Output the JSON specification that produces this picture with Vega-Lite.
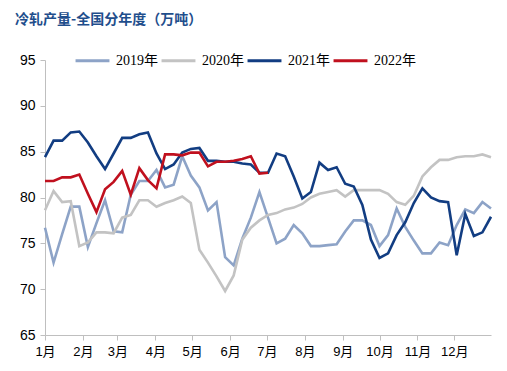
{
 "$schema": "https://vega.github.io/schema/vega-lite/v6.json",
 "width": 446, "height": 275,
 "autosize": {"type": "none"},
 "padding": {"left": 45, "top": 60, "right": 16, "bottom": 36},
 "background": "white",
 "title": {"text": "冷轧产量-全国分年度（万吨）", "anchor": "start", "frame": "group", "dx": -30, "dy": -11, "font": "Noto Sans CJK SC", "fontSize": 14, "fontWeight": "bold", "color": "#1F4E8C"},
 "config": {"view": {"stroke": null}},
 "data": {"values": [
  {"d":"2021-01-01","s":"2019年","v":76.7},{"d":"2021-01-08","s":"2019年","v":72.9},{"d":"2021-01-15","s":"2019年","v":76.0},{"d":"2021-01-22","s":"2019年","v":79.0},{"d":"2021-01-29","s":"2019年","v":79.0},{"d":"2021-02-05","s":"2019年","v":74.6},{"d":"2021-02-12","s":"2019年","v":77.2},{"d":"2021-02-19","s":"2019年","v":79.7},{"d":"2021-02-26","s":"2019年","v":76.3},{"d":"2021-03-05","s":"2019年","v":76.2},{"d":"2021-03-12","s":"2019年","v":80.3},{"d":"2021-03-19","s":"2019年","v":81.8},{"d":"2021-03-26","s":"2019年","v":81.8},{"d":"2021-04-02","s":"2019年","v":83.0},{"d":"2021-04-09","s":"2019年","v":81.1},{"d":"2021-04-16","s":"2019年","v":81.4},{"d":"2021-04-23","s":"2019年","v":84.5},{"d":"2021-04-30","s":"2019年","v":82.4},{"d":"2021-05-07","s":"2019年","v":81.1},{"d":"2021-05-14","s":"2019年","v":78.6},{"d":"2021-05-21","s":"2019年","v":79.5},{"d":"2021-05-28","s":"2019年","v":73.5},{"d":"2021-06-04","s":"2019年","v":72.6},{"d":"2021-06-11","s":"2019年","v":75.5},{"d":"2021-06-18","s":"2019年","v":77.8},{"d":"2021-06-25","s":"2019年","v":80.6},{"d":"2021-07-02","s":"2019年","v":77.8},{"d":"2021-07-09","s":"2019年","v":75.0},{"d":"2021-07-16","s":"2019年","v":75.5},{"d":"2021-07-23","s":"2019年","v":77.0},{"d":"2021-07-30","s":"2019年","v":76.1},{"d":"2021-08-06","s":"2019年","v":74.7},{"d":"2021-08-13","s":"2019年","v":74.7},{"d":"2021-08-20","s":"2019年","v":74.8},{"d":"2021-08-27","s":"2019年","v":74.9},{"d":"2021-09-03","s":"2019年","v":76.3},{"d":"2021-09-10","s":"2019年","v":77.5},{"d":"2021-09-17","s":"2019年","v":77.5},{"d":"2021-09-24","s":"2019年","v":77.0},{"d":"2021-10-01","s":"2019年","v":74.7},{"d":"2021-10-08","s":"2019年","v":75.9},{"d":"2021-10-15","s":"2019年","v":78.8},{"d":"2021-10-22","s":"2019年","v":76.8},{"d":"2021-10-29","s":"2019年","v":75.3},{"d":"2021-11-05","s":"2019年","v":73.9},{"d":"2021-11-12","s":"2019年","v":73.9},{"d":"2021-11-19","s":"2019年","v":75.1},{"d":"2021-11-26","s":"2019年","v":74.8},{"d":"2021-12-03","s":"2019年","v":77.0},{"d":"2021-12-10","s":"2019年","v":78.7},{"d":"2021-12-17","s":"2019年","v":78.3},{"d":"2021-12-24","s":"2019年","v":79.5},{"d":"2021-12-31","s":"2019年","v":78.8},
  {"d":"2021-01-01","s":"2020年","v":78.6},{"d":"2021-01-08","s":"2020年","v":80.7},{"d":"2021-01-15","s":"2020年","v":79.5},{"d":"2021-01-22","s":"2020年","v":79.6},{"d":"2021-01-29","s":"2020年","v":74.7},{"d":"2021-02-05","s":"2020年","v":75.1},{"d":"2021-02-12","s":"2020年","v":76.2},{"d":"2021-02-19","s":"2020年","v":76.2},{"d":"2021-02-26","s":"2020年","v":76.1},{"d":"2021-03-05","s":"2020年","v":77.8},{"d":"2021-03-12","s":"2020年","v":78.1},{"d":"2021-03-19","s":"2020年","v":79.7},{"d":"2021-03-26","s":"2020年","v":79.7},{"d":"2021-04-02","s":"2020年","v":79.0},{"d":"2021-04-09","s":"2020年","v":79.4},{"d":"2021-04-16","s":"2020年","v":79.7},{"d":"2021-04-23","s":"2020年","v":80.1},{"d":"2021-04-30","s":"2020年","v":79.4},{"d":"2021-05-07","s":"2020年","v":74.3},{"d":"2021-05-14","s":"2020年","v":72.9},{"d":"2021-05-21","s":"2020年","v":71.4},{"d":"2021-05-28","s":"2020年","v":69.8},{"d":"2021-06-04","s":"2020年","v":71.5},{"d":"2021-06-11","s":"2020年","v":75.4},{"d":"2021-06-18","s":"2020年","v":76.7},{"d":"2021-06-25","s":"2020年","v":77.5},{"d":"2021-07-02","s":"2020年","v":78.1},{"d":"2021-07-09","s":"2020年","v":78.3},{"d":"2021-07-16","s":"2020年","v":78.7},{"d":"2021-07-23","s":"2020年","v":78.9},{"d":"2021-07-30","s":"2020年","v":79.3},{"d":"2021-08-06","s":"2020年","v":80.0},{"d":"2021-08-13","s":"2020年","v":80.4},{"d":"2021-08-20","s":"2020年","v":80.6},{"d":"2021-08-27","s":"2020年","v":80.8},{"d":"2021-09-03","s":"2020年","v":80.1},{"d":"2021-09-10","s":"2020年","v":80.8},{"d":"2021-09-17","s":"2020年","v":80.8},{"d":"2021-09-24","s":"2020年","v":80.8},{"d":"2021-10-01","s":"2020年","v":80.8},{"d":"2021-10-08","s":"2020年","v":80.4},{"d":"2021-10-15","s":"2020年","v":79.5},{"d":"2021-10-22","s":"2020年","v":79.2},{"d":"2021-10-29","s":"2020年","v":80.2},{"d":"2021-11-05","s":"2020年","v":82.3},{"d":"2021-11-12","s":"2020年","v":83.3},{"d":"2021-11-19","s":"2020年","v":84.1},{"d":"2021-11-26","s":"2020年","v":84.1},{"d":"2021-12-03","s":"2020年","v":84.4},{"d":"2021-12-10","s":"2020年","v":84.5},{"d":"2021-12-17","s":"2020年","v":84.5},{"d":"2021-12-24","s":"2020年","v":84.7},{"d":"2021-12-31","s":"2020年","v":84.4},
  {"d":"2021-01-01","s":"2021年","v":84.4},{"d":"2021-01-08","s":"2021年","v":86.2},{"d":"2021-01-15","s":"2021年","v":86.2},{"d":"2021-01-22","s":"2021年","v":87.1},{"d":"2021-01-29","s":"2021年","v":87.2},{"d":"2021-02-05","s":"2021年","v":86.0},{"d":"2021-02-12","s":"2021年","v":84.5},{"d":"2021-02-19","s":"2021年","v":83.1},{"d":"2021-02-26","s":"2021年","v":84.8},{"d":"2021-03-05","s":"2021年","v":86.5},{"d":"2021-03-12","s":"2021年","v":86.5},{"d":"2021-03-19","s":"2021年","v":86.9},{"d":"2021-03-26","s":"2021年","v":87.1},{"d":"2021-04-02","s":"2021年","v":84.8},{"d":"2021-04-09","s":"2021年","v":83.1},{"d":"2021-04-16","s":"2021年","v":83.6},{"d":"2021-04-23","s":"2021年","v":84.9},{"d":"2021-04-30","s":"2021年","v":85.3},{"d":"2021-05-07","s":"2021年","v":85.4},{"d":"2021-05-14","s":"2021年","v":84.0},{"d":"2021-05-21","s":"2021年","v":84.0},{"d":"2021-05-28","s":"2021年","v":83.9},{"d":"2021-06-04","s":"2021年","v":83.9},{"d":"2021-06-11","s":"2021年","v":83.7},{"d":"2021-06-18","s":"2021年","v":83.6},{"d":"2021-06-25","s":"2021年","v":82.7},{"d":"2021-07-02","s":"2021年","v":82.7},{"d":"2021-07-09","s":"2021年","v":84.8},{"d":"2021-07-16","s":"2021年","v":84.5},{"d":"2021-07-23","s":"2021年","v":82.3},{"d":"2021-07-30","s":"2021年","v":79.9},{"d":"2021-08-06","s":"2021年","v":80.6},{"d":"2021-08-13","s":"2021年","v":83.8},{"d":"2021-08-20","s":"2021年","v":83.0},{"d":"2021-08-27","s":"2021年","v":83.3},{"d":"2021-09-03","s":"2021年","v":81.5},{"d":"2021-09-10","s":"2021年","v":81.2},{"d":"2021-09-17","s":"2021年","v":79.2},{"d":"2021-09-24","s":"2021年","v":75.4},{"d":"2021-10-01","s":"2021年","v":73.4},{"d":"2021-10-08","s":"2021年","v":73.9},{"d":"2021-10-15","s":"2021年","v":75.9},{"d":"2021-10-22","s":"2021年","v":77.3},{"d":"2021-10-29","s":"2021年","v":79.4},{"d":"2021-11-05","s":"2021年","v":81.0},{"d":"2021-11-12","s":"2021年","v":80.0},{"d":"2021-11-19","s":"2021年","v":79.6},{"d":"2021-11-26","s":"2021年","v":79.5},{"d":"2021-12-03","s":"2021年","v":73.7},{"d":"2021-12-10","s":"2021年","v":78.2},{"d":"2021-12-17","s":"2021年","v":75.8},{"d":"2021-12-24","s":"2021年","v":76.2},{"d":"2021-12-31","s":"2021年","v":77.9},
  {"d":"2021-01-01","s":"2022年","v":81.8},{"d":"2021-01-08","s":"2022年","v":81.8},{"d":"2021-01-15","s":"2022年","v":82.2},{"d":"2021-01-22","s":"2022年","v":82.2},{"d":"2021-01-29","s":"2022年","v":82.5},{"d":"2021-02-05","s":"2022年","v":80.4},{"d":"2021-02-12","s":"2022年","v":78.4},{"d":"2021-02-19","s":"2022年","v":80.9},{"d":"2021-02-26","s":"2022年","v":81.7},{"d":"2021-03-05","s":"2022年","v":82.9},{"d":"2021-03-12","s":"2022年","v":80.3},{"d":"2021-03-19","s":"2022年","v":83.2},{"d":"2021-03-26","s":"2022年","v":81.9},{"d":"2021-04-02","s":"2022年","v":81.0},{"d":"2021-04-09","s":"2022年","v":84.7},{"d":"2021-04-16","s":"2022年","v":84.7},{"d":"2021-04-23","s":"2022年","v":84.6},{"d":"2021-04-30","s":"2022年","v":84.9},{"d":"2021-05-07","s":"2022年","v":84.9},{"d":"2021-05-14","s":"2022年","v":83.4},{"d":"2021-05-21","s":"2022年","v":83.9},{"d":"2021-05-28","s":"2022年","v":83.9},{"d":"2021-06-04","s":"2022年","v":84.0},{"d":"2021-06-11","s":"2022年","v":84.2},{"d":"2021-06-18","s":"2022年","v":84.5},{"d":"2021-06-25","s":"2022年","v":82.6},{"d":"2021-07-02","s":"2022年","v":82.7}
 ]},
 "mark": {"type": "line", "strokeWidth": 2.6},
 "encoding": {
  "x": {"field": "d", "type": "temporal",
   "scale": {"type": "utc", "domain": [{"year": 2021, "month": 1, "date": 1, "utc": true}, {"year": 2021, "month": 12, "date": 31, "utc": true}]},
   "axis": {"title": null, "grid": false, "labelExpr": "utcFormat(datum.value, '%-m') + '月'",
    "values": [{"year":2021,"month":1,"date":1,"utc":true},{"year":2021,"month":2,"date":1,"utc":true},{"year":2021,"month":3,"date":1,"utc":true},{"year":2021,"month":4,"date":1,"utc":true},{"year":2021,"month":5,"date":1,"utc":true},{"year":2021,"month":6,"date":1,"utc":true},{"year":2021,"month":7,"date":1,"utc":true},{"year":2021,"month":8,"date":1,"utc":true},{"year":2021,"month":9,"date":1,"utc":true},{"year":2021,"month":10,"date":1,"utc":true},{"year":2021,"month":11,"date":1,"utc":true},{"year":2021,"month":12,"date":1,"utc":true}],
    "domainColor": "#bfbfbf", "tickColor": "#bfbfbf", "tickSize": 5, "labelPadding": 5, "labelFont": "Liberation Sans, Noto Sans CJK SC", "labelFontSize": 13, "labelColor": "#000000", "labelAngle": 0, "labelFlush": false, "labelOverlap": false}},
  "y": {"field": "v", "type": "quantitative",
   "scale": {"domain": [65, 95], "zero": false, "nice": false},
   "axis": {"title": null, "grid": false, "values": [65, 70, 75, 80, 85, 90, 95], "domainColor": "#bfbfbf", "tickColor": "#bfbfbf", "tickSize": 5, "labelPadding": 5, "labelFont": "Liberation Sans", "labelFontSize": 14, "labelColor": "#000000"}},
  "color": {"field": "s", "type": "nominal",
   "scale": {"domain": ["2019年", "2020年", "2021年", "2022年"], "range": ["#8DA3C7", "#C3C3C3", "#123D82", "#C0101E"]},
   "legend": {"title": null, "orient": "none", "legendX": 29, "legendY": -18, "direction": "horizontal", "symbolType": "stroke", "symbolSize": 1150, "symbolStrokeWidth": 3, "labelFont": "Liberation Serif, Noto Sans CJK SC", "labelFontSize": 14, "labelColor": "#000000", "labelOffset": 5, "columnPadding": -3}}
 }
}
